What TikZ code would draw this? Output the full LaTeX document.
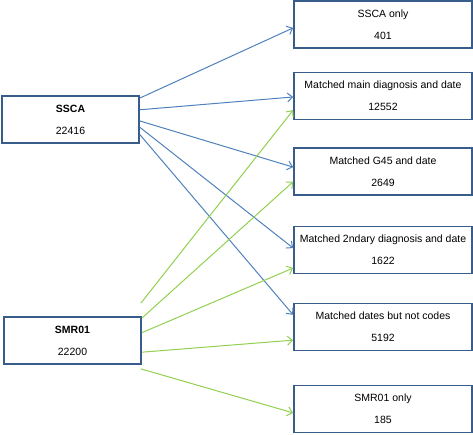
\documentclass[tikz,border=0pt]{standalone}
\usepackage{fontspec}
\setmainfont{Liberation Sans}
\usetikzlibrary{calc,arrows.meta}
\definecolor{boxblue}{RGB}{56,93,138}
\definecolor{lineblue}{RGB}{79,129,189}
\definecolor{linegreen}{RGB}{146,208,80}
\tikzset{
  box/.style={draw=boxblue, line width=1.7pt, fill=white, align=center, inner sep=0pt,
    font=\fontsize{10.5}{22}\selectfont},
  rbox/.style={box, minimum width=178pt, minimum height=47pt},
  lbox/.style={box, minimum width=137pt, minimum height=47pt},
  conn/.style={line width=1pt, -{Straight Barb[length=5pt,width=9pt]}},
  bluec/.style={conn, draw=lineblue},
  greenc/.style={conn, draw=linegreen},
}
\begin{document}
\begin{tikzpicture}[x=1pt,y=-1pt]
\useasboundingbox (0,0) rectangle (473,434);
\node[lbox] (ssca) at (70.5,119.5) {\textbf{SSCA}\\22416};
\node[lbox] (smr) at (72.5,340.5) {\textbf{SMR01}\\22200};
\node[rbox] (r1) at (383,24.5) {SSCA only\\401};
\node[rbox] (r2) at (383,96) {Matched main diagnosis and date\\12552};
\node[rbox] (r3) at (383,171.5) {Matched G45 and date\\2649};
\node[rbox] (r4) at (383,250) {Matched 2ndary diagnosis and date\\1622};
\node[rbox] (r5) at (383,327) {Matched dates but not codes\\5192};
\node[rbox] (r6) at (383,409) {SMR01 only\\185};
% blue connectors
\draw[bluec] ($(ssca.north east)!0.06!(ssca.south east)$) -- ($(r1.north west)!0.57!(r1.south west)$);
\draw[bluec] ($(ssca.north east)!0.30!(ssca.south east)$) -- ($(r2.north west)!0.52!(r2.south west)$);
\draw[bluec] ($(ssca.north east)!0.53!(ssca.south east)$) -- ($(r3.north west)!0.41!(r3.south west)$);
\draw[bluec] ($(ssca.north east)!0.66!(ssca.south east)$) -- ($(r4.north west)!0.46!(r4.south west)$);
\draw[bluec] ($(ssca.north east)!0.81!(ssca.south east)$) -- ($(r5.north west)!0.25!(r5.south west)$);
% green connectors
\coordinate (g0) at ($(smr.north east)+(-1,-13)$);
\coordinate (g5) at ($(smr.south east)+(-1,4)$);
\draw[greenc] (g0) -- ($(r2.north west)!0.79!(r2.south west)$);
\draw[greenc] ($(smr.north east)!0.04!(smr.south east)$) -- ($(r3.north west)!0.71!(r3.south west)$);
\draw[greenc] ($(smr.north east)!0.34!(smr.south east)$) -- ($(r4.north west)!0.87!(r4.south west)$);
\draw[greenc] ($(smr.north east)!0.74!(smr.south east)$) -- ($(r5.north west)!0.77!(r5.south west)$);
\draw[greenc] (g5) -- ($(r6.north west)!0.58!(r6.south west)$);
\end{tikzpicture}
\end{document}
